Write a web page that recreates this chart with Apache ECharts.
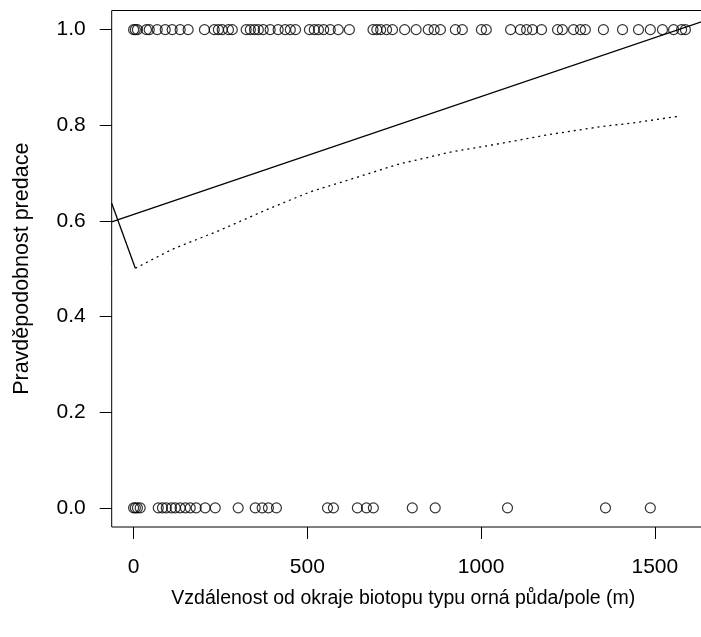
<!DOCTYPE html>
<html>
<head>
<meta charset="utf-8">
<script src="https://cdn.jsdelivr.net/npm/echarts@6/dist/echarts.min.js"></script>
<style>
  html, body { margin: 0; padding: 0; background: #fff; overflow: hidden; }
  #chart { width: 708px; height: 637px; }
</style>
</head>
<body>
<div id="chart"></div>
<script>
// observed predation (1) at distance x
var predatedX = [0, 5, 11, 37, 45, 68, 91, 111, 134, 157,
  204, 232, 244, 255, 273, 284,
  324, 336, 348, 359, 373, 393, 416, 436, 451, 466,
  506, 520, 532, 547, 566, 589, 621,
  689, 700, 711, 728, 745, 780, 813, 848, 865, 883,
  926, 946, 1001, 1015,
  1085, 1113, 1131, 1148, 1174, 1220, 1234, 1266, 1286, 1300,
  1352, 1407, 1453, 1487, 1522, 1554, 1577, 1588]
// no predation (0)
var survivedX = [0, 5, 11, 19, 71, 83, 94, 109, 120, 134, 149, 163, 180,
  206, 235, 301, 350, 370, 388, 411, 558, 575, 644, 670, 690,
  802, 868, 1076, 1358, 1487]

// fitted straight line (solid)
var linearX = [-63, 1653]
var linearY = [0.598, 1.021]
// short solid segment at the left edge
var edgeX = [-63, 5]
var edgeY = [0.637, 0.501]
// smoothed curve (dotted)
var smoothX = [5, 106, 250, 394, 509, 633, 768, 825, 912, 1056, 1199, 1343, 1438, 1569]
var smoothY = [0.501, 0.539, 0.581, 0.627, 0.661, 0.689, 0.720, 0.729, 0.744, 0.762, 0.781, 0.797, 0.805, 0.819]

var xTicks = [0, 500, 1000, 1500]
var yTicks = [0, 0.2, 0.4, 0.6, 0.8, 1.0]

function pairs(xs, ys) {
  return xs.map(function (x, i) { return [x, ys[i]] })
}

var chart = echarts.init(document.getElementById('chart'))
var font = 'Liberation Sans'

chart.setOption({
  animation: false,
  grid: {
    left: 111.7,
    right: 0,
    top: 10.5,
    bottom: 110,
    show: true,
    borderColor: '#000',
    borderWidth: 1,
    backgroundColor: 'transparent'
  },
  xAxis: {
    type: 'value',
    min: -63,
    max: 1653,
    name: 'Vzdálenost od okraje biotopu typu orná půda/pole (m)',
    nameLocation: 'middle',
    nameGap: 62,
    nameTextStyle: { fontFamily: font, fontSize: 19.5, color: '#000', padding: [0, 13, 0, 0] },
    splitLine: { show: false },
    axisLine: { show: false, onZero: false },
    axisTick: {
      show: true, inside: false, length: 12,
      customValues: xTicks,
      lineStyle: { color: '#000', width: 1 }
    },
    axisLabel: {
      customValues: xTicks,
      margin: 30,
      fontFamily: font, fontSize: 21, color: '#000',
      formatter: function (v) { return String(v) }
    }
  },
  yAxis: {
    type: 'value',
    min: -0.04,
    max: 1.04,
    name: 'Pravděpodobnost predace',
    nameLocation: 'middle',
    nameGap: 79,
    nameTextStyle: { fontFamily: font, fontSize: 21.5, color: '#000' },
    splitLine: { show: false },
    axisLine: { show: false, onZero: false },
    axisTick: {
      show: true, inside: false, length: 12,
      customValues: yTicks,
      lineStyle: { color: '#000', width: 1 }
    },
    axisLabel: {
      customValues: yTicks,
      margin: 26,
      fontFamily: font, fontSize: 21, color: '#000',
      formatter: function (v) { return v.toFixed(1) }
    }
  },
  series: [
    {
      type: 'scatter',
      data: predatedX.map(function (x) { return [x, 1] }),
      symbol: 'circle',
      symbolSize: 10,
      itemStyle: { color: 'rgba(0,0,0,0)', borderColor: '#000', borderWidth: 1.2 },
      emphasis: { disabled: true }
    },
    {
      type: 'scatter',
      data: survivedX.map(function (x) { return [x, 0] }),
      symbol: 'circle',
      symbolSize: 10,
      itemStyle: { color: 'rgba(0,0,0,0)', borderColor: '#000', borderWidth: 1.2 },
      emphasis: { disabled: true }
    },
    {
      type: 'line',
      data: pairs(linearX, linearY),
      showSymbol: false,
      lineStyle: { color: '#000', width: 1.3 }
    },
    {
      type: 'line',
      data: pairs(edgeX, edgeY),
      showSymbol: false,
      lineStyle: { color: '#000', width: 1.3 }
    },
    {
      type: 'line',
      data: pairs(smoothX, smoothY),
      showSymbol: false,
      lineStyle: { color: '#000', width: 1.3, type: [2, 4] }
    }
  ]
})
</script>
</body>
</html>
